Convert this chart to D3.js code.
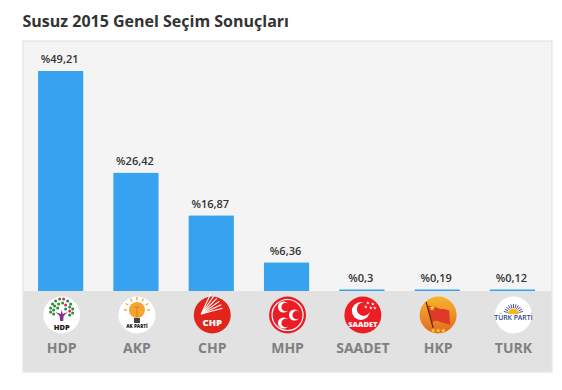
<!DOCTYPE html>
<html>
<head>
<meta charset="utf-8">
<script src="https://cdn.jsdelivr.net/npm/d3@7"></script>
<style>
  html, body { margin: 0; padding: 0; background: #fff; }
  text { font-family: "Open Sans", sans-serif; }
</style>
</head>
<body>
<div id="chart"></div>
<script>
const titleText = "Susuz 2015 Genel Seçim Sonuçları";
const parties = ["HDP", "AKP", "CHP", "MHP", "SAADET", "HKP", "TURK"];
const values = [49.21, 26.42, 16.87, 6.36, 0.3, 0.19, 0.12];
const valueLabels = ["%49,21", "%26,42", "%16,87", "%6,36", "%0,3", "%0,19", "%0,12"];

const width = 562, height = 390;
const panel = {left: 23, top: 41, right: 552, bottom: 372, base: 291};

const svg = d3.select("#chart").append("svg")
    .attr("width", width)
    .attr("height", height)
    .style("display", "block");

const x = d3.scaleBand()
    .domain(parties)
    .range([panel.left, panel.left + 7 * 75.3])
    .paddingInner(0.4)
    .paddingOuter(0.2);

const y = d3.scaleLinear()
    .domain([0, values[0]])
    .range([panel.base, 71]);

// centre of a party's column
const mid = d => x(d) + x.bandwidth() / 2;

svg.append("text")
    .attr("x", 22.5)
    .attr("y", 27)
    .attr("font-size", 16)
    .attr("font-weight", 700)
    .attr("fill", "#333")
    .text(titleText);

// panel background and the darker logo band
svg.append("rect")
    .attr("x", panel.left).attr("y", panel.top)
    .attr("width", panel.right - panel.left).attr("height", panel.bottom - panel.top)
    .attr("fill", "#f4f4f4").attr("stroke", "#dedede");
svg.append("rect")
    .attr("x", panel.left + 0.5).attr("y", panel.base)
    .attr("width", panel.right - panel.left - 1).attr("height", panel.bottom - panel.base - 0.5)
    .attr("fill", "#e2e2e2");

// bars, small values still show as a thin line
svg.selectAll(".bar")
    .data(values)
    .enter().append("rect")
    .attr("class", "bar")
    .attr("x", (d, i) => x(parties[i]))
    .attr("y", d => Math.min(y(d), panel.base - 1.5))
    .attr("width", x.bandwidth())
    .attr("height", d => Math.max(panel.base - y(d), 1.5))
    .attr("fill", "#36a2f0");

svg.selectAll(".value")
    .data(values)
    .enter().append("text")
    .attr("class", "value")
    .attr("x", (d, i) => mid(parties[i]) - 1)
    .attr("y", d => Math.min(y(d), panel.base - 1.5) - 8)
    .attr("text-anchor", "middle")
    .attr("font-size", 11)
    .attr("font-weight", 600)
    .attr("fill", "#333")
    .text((d, i) => valueLabels[i]);

svg.selectAll(".name")
    .data(parties)
    .enter().append("text")
    .attr("class", "name")
    .attr("x", d => mid(d) + 1)
    .attr("y", 353)
    .attr("text-anchor", "middle")
    .attr("font-size", 14)
    .attr("font-weight", 700)
    .attr("fill", "#808080")
    .text(d => d);

// party logos
const defs = svg.append("defs");
const hkpGrad = defs.append("linearGradient").attr("id", "hkpGrad")
    .attr("x1", 0).attr("y1", 0).attr("x2", 0).attr("y2", 1);
hkpGrad.append("stop").attr("offset", "0%").attr("stop-color", "#f7b52e");
hkpGrad.append("stop").attr("offset", "100%").attr("stop-color", "#e2691f");

const logoRadius = 18.5;
const logos = svg.selectAll(".logo")
    .data(parties)
    .enter().append("g")
    .attr("class", "logo")
    .attr("transform", d => `translate(${mid(d) + 1},315)`);

const logoFill = {HDP: "#fff", AKP: "#fff", CHP: "#e1251b", MHP: "#ec1c24", SAADET: "#ee1c25", HKP: "url(#hkpGrad)", TURK: "#fff"};
logos.append("circle")
    .attr("r", logoRadius)
    .attr("fill", d => logoFill[d]);

function logoText(g, str, yPos, size, fill, weight) {
  g.append("text")
    .attr("y", yPos)
    .attr("text-anchor", "middle")
    .attr("font-size", size)
    .attr("font-weight", weight || 800)
    .attr("fill", fill)
    .text(str);
}

function star(g, cx, cy, r, fill) {
  g.append("path")
    .attr("d", d3.symbol(d3.symbolStar, r * r * 3)())
    .attr("transform", `translate(${cx},${cy})`)
    .attr("fill", fill);
}

function crescent(g, cx, cy, r, rot, fill, inner) {
  g.append("circle").attr("cx", cx).attr("cy", cy).attr("r", r).attr("fill", fill);
  const a = rot * Math.PI / 180;
  g.append("circle")
    .attr("cx", cx + Math.cos(a) * r * 0.38)
    .attr("cy", cy + Math.sin(a) * r * 0.38)
    .attr("r", r * 0.76)
    .attr("fill", inner);
}

// HDP tree
const hdp = logos.filter(d => d === "HDP");
const leaves = [[-9,-11],[-6,-14],[-2,-16],[2,-16],[6,-14],[9,-11],[-11,-7],[-7,-9],[-3,-11],[1,-12],[4,-10],[8,-8],[11,-6],[-11,-3],[-8,-5],[-4,-7],[4,-6],[8,-4],[11,-2],[-8,-1],[8,0]];
hdp.selectAll(".leaf").data(leaves).enter().append("circle")
    .attr("cx", d => d[0]).attr("cy", d => d[1]).attr("r", 1.5)
    .attr("fill", (d, i) => i % 7 === 3 ? "#d6267f" : "#2e8b35");
hdp.append("path")
    .attr("d", "M-6,-3 L-2,1 L-1.5,6 L1.5,6 L2,1 L6,-3 L1,-1 L0,-5 L-1,-1 Z")
    .attr("fill", "#8c2a8c");
logoText(hdp, "HDP", 14.5, 7.5, "#1a1a1a");

// AK Parti bulb
const akp = logos.filter(d => d === "AKP");
d3.range(-3, 4).forEach(k => {
  const a = (k * 30 - 90) * Math.PI / 180;
  akp.append("line")
    .attr("x1", Math.cos(a) * 10).attr("y1", -5 + Math.sin(a) * 10)
    .attr("x2", Math.cos(a) * 13).attr("y2", -5 + Math.sin(a) * 13)
    .attr("stroke", "#f4a52c").attr("stroke-width", 1.4);
});
akp.append("circle").attr("cy", -5).attr("r", 8).attr("fill", "#f5a331");
akp.append("rect").attr("x", -3).attr("y", 3).attr("width", 6).attr("height", 5).attr("fill", "#444");
akp.append("path").attr("d", "M-2.5,-8 H2.5 M0,-8 V2").attr("stroke", "#d9801c").attr("stroke-width", 1).attr("fill", "none");
logoText(akp, "AK PARTİ", 13, 4.6, "#222");

// CHP arrows
const chp = logos.filter(d => d === "CHP");
d3.range(6).forEach(k => {
  const a = (-65 + k * 10) * Math.PI / 180;
  chp.append("line")
    .attr("x1", -11).attr("y1", -1)
    .attr("x2", -11 + Math.cos(a) * 22).attr("y2", -1 + Math.sin(a) * 22)
    .attr("stroke", "#fff").attr("stroke-width", 1.1);
});
logoText(chp, "CHP", 11, 9.5, "#fff");

// MHP three crescents
const mhp = logos.filter(d => d === "MHP");
mhp.append("circle").attr("r", 15.5).attr("fill", "none").attr("stroke", "#fff").attr("stroke-width", 1.2);
crescent(mhp, -4, -8, 5.6, 0, "#fff", "#ec1c24");
crescent(mhp, -4, 8, 5.6, 0, "#fff", "#ec1c24");
crescent(mhp, 7, 0, 5.6, 0, "#fff", "#ec1c24");

// Saadet crescent and stars
const saadet = logos.filter(d => d === "SAADET");
crescent(saadet, -2, -4, 9, -35, "#fff", "#ee1c25");
[[5,-12],[10,-11],[3,-8],[8,-7],[12,-7]].forEach(p => star(saadet, p[0], p[1], 1.2, "#fff"));
logoText(saadet, "SAADET", 12, 7.5, "#fff");

// HKP flag
const hkp = logos.filter(d => d === "HKP");
hkp.append("path")
    .attr("d", "M-11,-9 C-5,-10 0,-6 3,-6 C7,-6 11,-5 11,-4 L12,10 C8,8 4,8 0,6 C-4,5 -6,7 -6,8 Z")
    .attr("fill", "#dd3a28");
hkp.append("line").attr("x1", -12).attr("y1", -13).attr("x2", -5).attr("y2", 13)
    .attr("stroke", "#5a2a10").attr("stroke-width", 1.2);
star(hkp, -6, -7, 2, "#f8d32a");
[-5, 0, 5].forEach(px => star(hkp, px, 15.5, 1.7, "#f8d32a"));

// Turk Parti sun
const turk = logos.filter(d => d === "TURK");
d3.range(-5, 6).forEach(k => {
  const a = (k * 15 - 90) * Math.PI / 180;
  turk.append("line")
    .attr("x1", Math.cos(a) * 6).attr("y1", -1 + Math.sin(a) * 6)
    .attr("x2", Math.cos(a) * 10).attr("y2", -1 + Math.sin(a) * 10)
    .attr("stroke", "#2c3f8f").attr("stroke-width", 0.9);
});
turk.append("path").attr("d", d3.arc()({innerRadius: 0, outerRadius: 5.5, startAngle: -Math.PI / 2, endAngle: Math.PI / 2}))
    .attr("transform", "translate(0,-1)").attr("fill", "#f6b81c");
logoText(turk, "TÜRK PARTİ", 5, 6.8, "#2c3f8f", 600);
</script>
</body>
</html>
